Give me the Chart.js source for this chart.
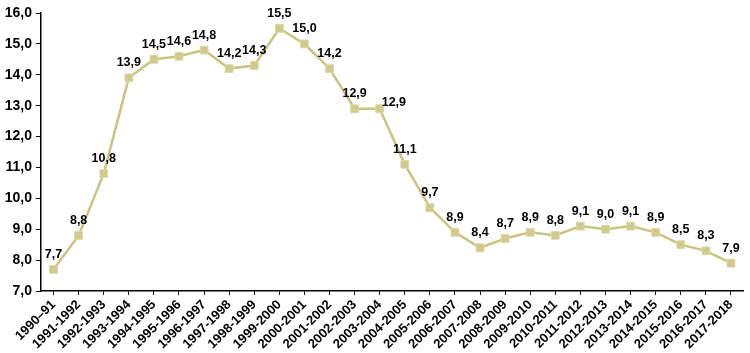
<!DOCTYPE html>
<html>
<head>
<meta charset="utf-8">
<script src="https://cdn.jsdelivr.net/npm/chart.js@4/dist/chart.umd.min.js"></script>
<style>
html,body{margin:0;padding:0;background:#fff;}
#wrap{width:750px;height:353px;position:relative;}
</style>
</head>
<body>
<div id="wrap"><canvas id="c" width="750" height="353"></canvas></div>
<script>
const categories = ["1990–91","1991-1992","1992-1993","1993-1994","1994-1995","1995-1996","1996-1997","1997-1998","1998-1999","1999-2000","2000-2001","2001-2002","2002-2003","2003-2004","2004-2005","2005-2006","2006-2007","2007-2008","2008-2009","2009-2010","2010-2011","2011-2012","2012-2013","2013-2014","2014-2015","2015-2016","2016-2017","2017-2018"];
const values = [7.7,8.8,10.8,13.9,14.5,14.6,14.8,14.2,14.3,15.5,15.0,14.2,12.9,12.9,11.1,9.7,8.9,8.4,8.7,8.9,8.8,9.1,9.0,9.1,8.9,8.5,8.3,7.9];
const yTicks = [7,8,9,10,11,12,13,14,15,16];
const labelPlacement = categories.map((c,i)=> c==="2003-2004" ? "right" : "above");

const fmt = v => v.toFixed(1).replace('.', ',');
const FONT = "'Liberation Sans', Arial, sans-serif";

const dataLabels = {
  id: 'dataLabels',
  afterDatasetsDraw(chart) {
    const ctx = chart.ctx;
    const meta = chart.getDatasetMeta(0);
    ctx.save();
    ctx.font = "bold 12.5px " + FONT;
    ctx.fillStyle = '#000';
    meta.data.forEach((pt, i) => {
      const txt = fmt(values[i]);
      if (labelPlacement[i] === 'right') {
        ctx.textAlign = 'left';
        ctx.textBaseline = 'middle';
        ctx.fillText(txt, pt.x + 2, pt.y - 6);
      } else {
        ctx.textAlign = 'center';
        ctx.textBaseline = 'middle';
        ctx.fillText(txt, pt.x, pt.y - 15);
      }
    });
    ctx.restore();
  }
};

new Chart(document.getElementById('c'), {
  type: 'line',
  data: {
    labels: categories,
    datasets: [{
      data: values,
      borderColor: '#c9c47f',
      borderWidth: 2.5,
      backgroundColor: '#cfcb8c',
      pointStyle: 'rect',
      pointRadius: 5.5,
      pointBackgroundColor: '#cfcb8c',
      pointBorderColor: '#dcd9a6',
      pointBorderWidth: 1,
      tension: 0,
      fill: false
    }]
  },
  options: {
    responsive: false,
    devicePixelRatio: 1,
    animation: false,
    layout: { padding: { top: 13, right: 3, left: 0, bottom: 0 } },
    plugins: { legend: { display: false }, tooltip: { enabled: false } },
    scales: {
      x: {
        offset: true,
        grid: { display: true, drawOnChartArea: false, drawTicks: true, tickLength: 4, color: '#000', offset: false },
        border: { color: '#000', width: 1.5 },
        ticks: {
          autoSkip: false, maxRotation: 45, minRotation: 45, padding: 2,
          color: '#000', font: { family: FONT, size: 13, weight: 'bold' }
        },
        afterFit(scale) { scale.height = 62; }
      },
      y: {
        min: 7, max: 16,
        afterBuildTicks(scale) { scale.ticks = yTicks.map(v => ({ value: v })); },
        grid: { display: true, drawOnChartArea: false, drawTicks: true, tickLength: 5, color: '#000' },
        border: { color: '#000', width: 1.5 },
        ticks: {
          padding: 4, color: '#000',
          font: { family: FONT, size: 14, weight: 'bold' },
          callback: v => fmt(v)
        },
        afterFit(scale) { scale.width = 41; }
      }
    }
  },
  plugins: [dataLabels]
});
</script>
</body>
</html>
